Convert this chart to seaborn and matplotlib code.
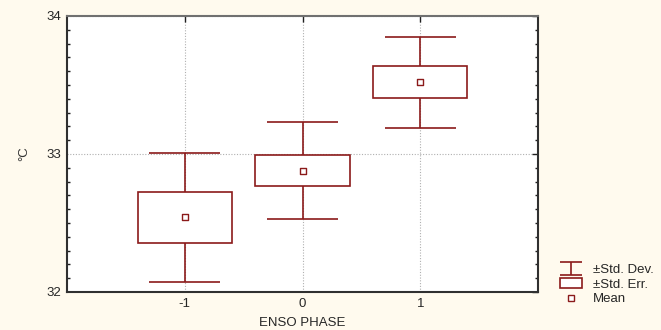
import numpy as np
import pandas as pd
import matplotlib
matplotlib.use('Agg')
import matplotlib.pyplot as plt
import seaborn as sns
from matplotlib.patches import Patch
from matplotlib.lines import Line2D
from matplotlib.ticker import MultipleLocator, FixedLocator

# ---- data ----
phases = [-1, 0, 1]
means = [32.54, 32.88, 33.52]
std_err = [0.185, 0.115, 0.115]
std_dev = [0.47, 0.35, 0.33]
y_ticks = [32, 33, 34]
x_ticks = [-1, 0, 1]
legend_labels = ['±Std. Dev.', '±Std. Err.', 'Mean']

sns.set_style('white')
plt.rcParams['font.family'] = ['Liberation Sans', 'DejaVu Sans']
plt.rcParams['font.size'] = 9.5

df = pd.DataFrame({'phase': phases, 'mean': means, 'se': std_err, 'sd': std_dev})

color = '#8B1A1A'
bg = '#FFFAEE'
W, H = 661, 330
fig = plt.figure(figsize=(W / 100, H / 100), dpi=100, facecolor=bg)
ax = fig.add_axes([67 / W, 1 - 292 / H, (538 - 67) / W, (292 - 16) / H])
ax.set_facecolor('white')

# whiskers (SD)
ax.vlines(df['phase'], df['mean'] - df['sd'], df['mean'] + df['sd'],
          color=color, linewidth=1.2, zorder=2)
ax.hlines(df['mean'] + df['sd'], df['phase'] - 0.3, df['phase'] + 0.3,
          color=color, linewidth=1.2, zorder=2)
ax.hlines(df['mean'] - df['sd'], df['phase'] - 0.3, df['phase'] + 0.3,
          color=color, linewidth=1.2, zorder=2)
# boxes (SE)
ax.bar(df['phase'], 2 * df['se'], bottom=df['mean'] - df['se'], width=0.8,
       facecolor='white', edgecolor=color, linewidth=1.2, zorder=3)
# means
sns.scatterplot(data=df, x='phase', y='mean', marker='s', s=18,
                facecolor='white', edgecolor=color, linewidth=1.0,
                zorder=4, ax=ax, legend=False)

ax.set_xlim(-2, 2)
ax.set_ylim(32, 34)
ax.xaxis.set_major_locator(FixedLocator(x_ticks))
ax.yaxis.set_major_locator(FixedLocator(y_ticks))
ax.yaxis.set_minor_locator(MultipleLocator(0.1))
ax.set_xticklabels([str(v) for v in x_ticks])
ax.set_yticklabels([str(v) for v in y_ticks])

ax.grid(True, which='major', linestyle=(0, (1, 1.5)), color='#B0B0B0', linewidth=0.8, zorder=0)
ax.set_axisbelow(True)

ax.tick_params(axis='both', which='major', direction='in', length=4, width=1,
               color='#202020', labelsize=9.5, pad=4, top=True, right=True)
ax.tick_params(axis='y', which='minor', direction='in', length=2.5, width=1,
               color='#202020', left=True, right=True)

for side in ['left', 'right', 'bottom']:
    ax.spines[side].set_color('#303030')
    ax.spines[side].set_linewidth(1.5)
ax.spines['top'].set_color('#707070')
ax.spines['top'].set_linewidth(1.5)

ax.set_xlabel('ENSO PHASE', fontsize=9.5, labelpad=5)
ax.set_ylabel('°C', fontsize=9.5, labelpad=12, color='#333333')

# legend
sd_handle = ax.errorbar([np.nan], [np.nan], yerr=[1], fmt='none', ecolor=color,
                        elinewidth=1.2, capsize=8, capthick=1.2)
se_handle = Patch(facecolor='white', edgecolor=color, linewidth=1.2)
mean_handle = Line2D([], [], marker='s', linestyle='none', markersize=4.5,
                     markerfacecolor='white', markeredgecolor=color, markeredgewidth=1.0)
leg = fig.legend([sd_handle, se_handle, mean_handle], legend_labels,
                 loc='center left', bbox_to_anchor=(553 / W, 1 - 284.5 / H),
                 frameon=False, fontsize=9.5, handlelength=1.7, handleheight=0.8,
                 handletextpad=0.8, labelspacing=0.15, borderpad=0)

fig.savefig('out.png', dpi=100, facecolor=bg)
